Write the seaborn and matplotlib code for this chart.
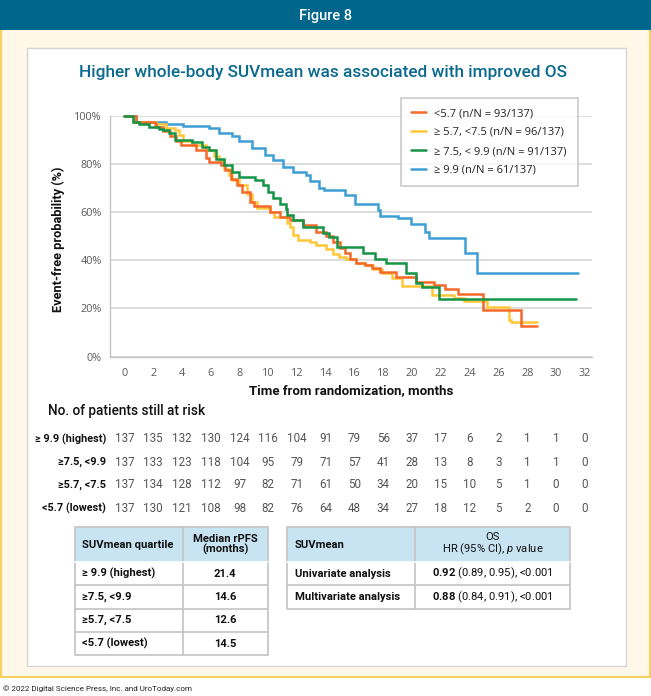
import numpy as np
import pandas as pd
import matplotlib
matplotlib.use("Agg")
import matplotlib.pyplot as plt
import seaborn as sns
from matplotlib.patches import Rectangle
from matplotlib.lines import Line2D
import matplotlib.transforms as mtransforms

# ---------------- data ----------------
groups = ["<5.7 (n/N = 93/137)", "\u2265 5.7, <7.5 (n/N = 96/137)",
          "\u2265 7.5, < 9.9 (n/N = 91/137)", "\u2265 9.9 (n/N = 61/137)"]
colors = ["#F4692A", "#FFC83A", "#149447", "#3D9FD3"]

t_low = [0, 0.8, 2.1, 2.2, 2.7, 3.2, 3.6, 3.9, 5.0, 5.7, 5.9, 6.7, 7.0, 7.4, 7.8, 8.2, 8.7, 9.0,
         10.1, 10.8, 11.5, 12.4, 13.3, 14.0, 14.5, 15.0, 15.3, 15.7, 16.1, 16.7, 17.2, 17.8, 18.9,
         20.3, 21.5, 22.3, 23.2, 24.9, 27.6, 28.7]
s_low = [100, 97.2, 96.3, 95.2, 93.4, 91.4, 89.3, 87.6, 85.5, 82.5, 80.7, 79.3, 77.2, 73.8, 71.1,
         68.3, 64.2, 62.4, 60.1, 58.0, 56.6, 54.6, 51.8, 50.0, 47.6, 44.9, 42.8, 40.4, 38.7, 38.0,
         36.6, 35.2, 33.2, 31.1, 29.8, 28.0, 26.0, 19.4, 12.8, 12.8]

t_mid1 = [0, 0.6, 2.2, 2.9, 3.5, 3.8, 4.1, 4.7, 5.7, 6.2, 6.6, 6.9, 7.3, 7.5, 8.0, 8.5, 8.9, 9.2,
          10.1, 10.4, 11.3, 11.5, 11.7, 12.1, 12.9, 13.3, 14.0, 14.5, 14.9, 15.4, 16.1, 16.7, 17.3,
          17.9, 18.6, 19.3, 21.4, 22.9, 23.6, 25.2, 26.7, 26.9, 28.7]
s_mid1 = [100, 97.2, 96.3, 95.0, 93.8, 91.8, 89.6, 87.6, 85.5, 83.4, 81.4, 78.0, 75.2, 73.1, 71.0,
          67.6, 64.2, 61.8, 60.1, 58.0, 55.5, 53.9, 50.5, 48.5, 47.6, 46.3, 44.5, 42.6, 41.5, 40.4,
          39.0, 38.2, 36.3, 34.6, 32.5, 29.5, 25.6, 24.3, 23.1, 20.8, 15.3, 14.2, 14.2]

t_mid2 = [0, 0.6, 1.0, 1.7, 2.4, 2.7, 3.1, 3.5, 4.7, 5.4, 5.9, 6.4, 6.9, 7.5, 8.0, 9.1, 9.6, 10.0,
          10.3, 10.8, 11.2, 11.3, 11.7, 12.4, 13.8, 14.2, 14.8, 16.6, 17.4, 18.2, 19.6, 20.3, 20.7,
          21.9, 31.4]
s_mid2 = [100, 97.2, 96.6, 95.2, 94.5, 93.8, 92.7, 90.0, 89.0, 86.9, 85.5, 82.1, 79.3, 76.6, 74.5,
          73.1, 71.1, 68.3, 65.6, 63.5, 61.4, 58.7, 56.6, 53.8, 51.1, 49.6, 45.6, 42.8, 40.4, 38.7,
          34.8, 30.7, 29.0, 24.0, 24.0]

t_high = [0, 0.8, 2.9, 4.1, 5.9, 6.6, 7.5, 8.0, 8.9, 9.8, 10.3, 11.0, 11.7, 12.6, 12.9, 13.5, 13.9,
          15.3, 16.0, 17.6, 17.8, 19.0, 19.9, 20.9, 21.2, 23.7, 24.5, 31.5]
s_high = [100, 97.5, 96.3, 95.8, 94.9, 92.8, 91.4, 89.3, 86.6, 83.8, 81.4, 78.6, 76.6, 75.2, 73.0,
          70.0, 69.3, 66.9, 63.2, 60.7, 58.3, 57.3, 55.2, 51.8, 49.3, 42.8, 34.6, 34.6]

x_ticks = list(range(0, 33, 2))
y_ticks = [0, 20, 40, 60, 80, 100]
y_tick_labels = ["0%", "20%", "40%", "60%", "80%", "100%"]

risk_labels = ["\u2265 9.9 (highest)", "\u22657.5, <9.9", "\u22655.7, <7.5", "<5.7 (lowest)"]
risk_high = [137, 135, 132, 130, 124, 116, 104, 91, 79, 56, 37, 17, 6, 2, 1, 1, 0]
risk_mid2 = [137, 133, 123, 118, 104, 95, 79, 71, 57, 41, 28, 13, 8, 3, 1, 1, 0]
risk_mid1 = [137, 134, 128, 112, 97, 82, 71, 61, 50, 34, 20, 15, 10, 5, 1, 0, 0]
risk_low = [137, 130, 121, 108, 98, 82, 76, 64, 48, 34, 27, 18, 12, 5, 2, 0, 0]

tab1_header = ["SUVmean quartile", "Median rPFS\n(months)"]
tab1_rows = ["\u2265 9.9 (highest)", "\u22657.5, <9.9", "\u22655.7, <7.5", "<5.7 (lowest)"]
tab1_vals = ["21.4", "14.6", "12.6", "14.5"]

tab2_header = ["SUVmean", "OS\nHR (95% CI), $\\mathit{p}$ value"]
tab2_rows = ["Univariate analysis", "Multivariate analysis"]
tab2_hr = ["0.92", "0.88"]
tab2_rest = ["(0.89, 0.95), <0.001", "(0.84, 0.91), <0.001"]

# ---------------- style ----------------
sns.set_style("white")
NARROW = ["Roboto", "DejaVu Sans"]
BODY = ["Open Sans", "DejaVu Sans"]
plt.rcParams["font.family"] = BODY
plt.rcParams["mathtext.fontset"] = "custom"
plt.rcParams["mathtext.rm"] = "Roboto"
plt.rcParams["mathtext.it"] = "Roboto:italic"
plt.rcParams["mathtext.bf"] = "Roboto:bold"

W, H = 651, 696
fig = plt.figure(figsize=(W / 100, H / 100), dpi=100)

bg = fig.add_axes([0, 0, 1, 1], zorder=0)
bg.set_xlim(0, W)
bg.set_ylim(H, 0)
bg.axis("off")

# frame / header / panel
bg.add_patch(Rectangle((1, 29), W - 2.5, 648, facecolor="#FFF8E8", edgecolor="#F7D160", lw=1.5))
bg.add_patch(Rectangle((0, 0), W, 30, facecolor="#01668B", edgecolor="none"))
bg.add_patch(Rectangle((27, 48), 599, 618, facecolor="white", edgecolor="#D5D5D5", lw=1.0))
bg.text(W / 2, 16, "Figure 8", color="white", ha="center", va="center",
        family=NARROW, fontsize=10.5, fontweight="medium")
bg.text(323, 72, "Higher whole-body SUVmean was associated with improved OS", color="#0B6A8E",
        ha="center", va="center", family=NARROW, fontsize=12.4, fontweight="medium")
bg.text(3, 689, "\u00a9 2022 Digital Science Press, Inc. and UroToday.com", color="#222222",
        ha="left", va="center", family=NARROW, fontsize=5.8)

# ---------------- KM plot ----------------
ax = fig.add_axes([110 / W, 1 - 356.7 / H, (592 - 110) / W, (356.7 - 115.5) / H], zorder=2)
ax.set_facecolor("none")

frames = []
for g, t, s in [(groups[3], t_high, s_high), (groups[1], t_mid1, s_mid1),
                (groups[0], t_low, s_low), (groups[2], t_mid2, s_mid2)]:
    frames.append(pd.DataFrame({"t": t, "s": s, "group": g}))
df = pd.concat(frames, ignore_index=True)
draw_order = [groups[3], groups[1], groups[0], groups[2]]
palette = dict(zip(groups, colors))
sns.lineplot(data=df, x="t", y="s", hue="group", hue_order=draw_order, palette=palette,
             drawstyle="steps-post", estimator=None, sort=False, lw=1.8, legend=False, ax=ax)
for ln in ax.lines:
    ln.set_clip_on(False)
    ln.set_solid_joinstyle("miter")

ax.set_xlim(-1, 32.5)
ax.set_ylim(0, 100)
ax.set_xticks(x_ticks)
ax.set_yticks(y_ticks)
ax.set_yticklabels(y_tick_labels)
ax.yaxis.grid(True, color="#DADADA", lw=1.3)
ax.xaxis.grid(False)
ax.set_axisbelow(True)
for sp in ["top", "right"]:
    ax.spines[sp].set_visible(False)
for sp in ["left", "bottom"]:
    ax.spines[sp].set_color("#C4C4C4")
    ax.spines[sp].set_linewidth(1.0)
ax.tick_params(axis="x", direction="out", length=4, width=0.9, color="#BDBDBD",
               labelsize=7.8, labelcolor="#5A5A5A", pad=4)
ax.tick_params(axis="y", length=0, labelsize=7.8, labelcolor="#5A5A5A", pad=6)
ax.set_xlabel("")
ax.set_ylabel("")
fig.text(58 / W, 1 - 239 / H, "Event-free probability (%)", rotation=90, ha="center",
         va="center", family=NARROW, fontsize=9.2, fontweight="bold", color="#111111")
fig.text(351 / W, 1 - 391 / H, "Time from randomization, months", ha="center", va="center",
         family=NARROW, fontsize=9.5, fontweight="bold", color="#111111")

handles = [Line2D([0], [0], color=c, lw=1.8) for c in colors]
leg = ax.legend(handles, groups, loc="upper left",
                bbox_to_anchor=(400.7 / W, 1 - 194 / H, 177.6 / W, 96 / H),
                bbox_transform=fig.transFigure, mode="expand", frameon=True, fancybox=False,
                fontsize=8, handlelength=1.4, handletextpad=0.7, labelspacing=0.72,
                borderpad=0.9, borderaxespad=0)
leg.get_frame().set_edgecolor("#BDBDBD")
leg.get_frame().set_linewidth(1.2)
for txt in leg.get_texts():
    txt.set_color("#222222")

# ---------------- risk table ----------------
bg.text(48, 411, "No. of patients still at risk", ha="left", va="center", family=NARROW,
        fontsize=9.8, fontweight="medium", color="#111111")
trans = mtransforms.blended_transform_factory(ax.transData, bg.transData)
row_y = [439, 462, 485, 508]
for lab, vals, yy in zip(risk_labels, [risk_high, risk_mid2, risk_mid1, risk_low], row_y):
    bg.text(106, yy, lab, ha="right", va="center", family=NARROW, fontsize=7.8,
            fontweight="bold", color="#111111")
    for xt, v in zip(x_ticks, vals):
        bg.text(xt, yy, str(v), transform=trans, ha="center", va="center", family=NARROW,
                fontsize=8.4, color="#555555")

# ---------------- tables ----------------
HDR = "#C8E4F2"
LINE = "#C4C4C4"

def draw_table(x0, x1, xdiv, y_top, y_hdr, row_h, n_rows):
    bg.add_patch(Rectangle((x0, y_top), x1 - x0, y_hdr - y_top, facecolor=HDR,
                           edgecolor="none"))
    y_bot = y_hdr + row_h * n_rows
    bg.add_patch(Rectangle((x0, y_top), x1 - x0, y_bot - y_top, facecolor="none",
                           edgecolor=LINE, lw=1.2))
    bg.plot([xdiv, xdiv], [y_top, y_bot], color=LINE, lw=1.2)
    for i in range(1, n_rows):
        yy = y_hdr + row_h * i
        bg.plot([x0, x1], [yy, yy], color=LINE, lw=1.2)
    bg.plot([x0, x1], [y_hdr, y_hdr], color="white", lw=1.2)

y_top, y_hdr, row_h = 527, 562, 23.3
draw_table(74.8, 267.5, 183, y_top, y_hdr, row_h, len(tab1_rows))
draw_table(286.7, 570, 415, y_top, y_hdr, row_h, len(tab2_rows))

tk = dict(family=NARROW, fontsize=8.1, color="#111111", va="center")
bg.text(82, (y_top + y_hdr) / 2, tab1_header[0], ha="left", fontweight="bold", **tk)
bg.text(225.3, (y_top + y_hdr) / 2, tab1_header[1], ha="center", fontweight="bold",
        linespacing=1.05, **tk)
for i, (r, v) in enumerate(zip(tab1_rows, tab1_vals)):
    yy = y_hdr + row_h * (i + 0.5)
    bg.text(82, yy, r, ha="left", fontweight="bold", **tk)
    bg.text(225.3, yy, v, ha="center", fontweight="bold", **tk)

bg.text(295, (y_top + y_hdr) / 2, tab2_header[0], ha="left", fontweight="bold", **tk)
bg.text(492.5, (y_top + y_hdr) / 2, tab2_header[1], ha="center",
        linespacing=1.05, **tk)
for i, (r, hr, rest) in enumerate(zip(tab2_rows, tab2_hr, tab2_rest)):
    yy = y_hdr + row_h * (i + 0.5)
    bg.text(295, yy, r, ha="left", fontweight="bold", **tk)
    bg.text(492.5, yy, "$\\mathbf{" + hr + "}$ " + rest, ha="center", **tk)

fig.savefig("out.png", dpi=100)
